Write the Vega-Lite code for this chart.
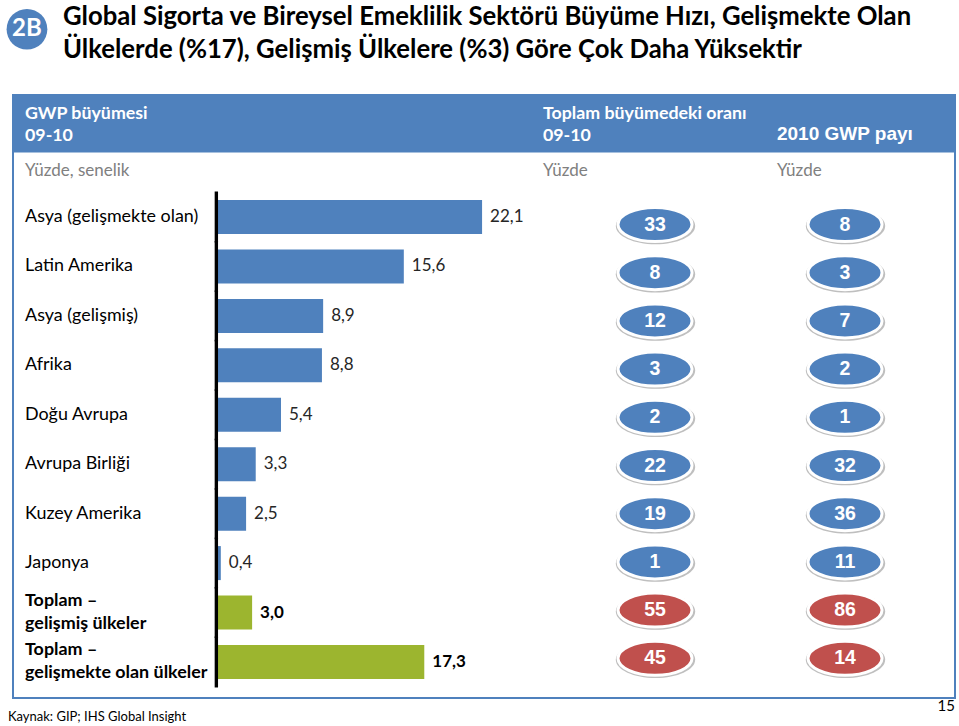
{
  "$schema": "https://vega.github.io/schema/vega-lite/v6.json",
  "width": 942,
  "height": 603,
  "autosize": {"type": "none"},
  "padding": {"left": 13, "top": 95, "right": 4, "bottom": 28},
  "background": "white",
  "config": {
    "font": "Lato",
    "view": {"stroke": "#4F81BD", "strokeWidth": 2},
    "locale": {"number": {"decimal": ",", "thousands": ".", "grouping": [3], "currency": ["", " TL"]}},
    "axisX": {"domainColor": "#4F81BD", "domainWidth": 57, "offset": -574.5, "ticks": false, "labels": false, "grid": false},
    "axisY": {"grid": false}
  },
  "datasets": {
    "bolgeler": [
      {"bolge": "Asya (gelişmekte olan)", "buyume": 22.1, "buyume_payi": 33, "gwp_payi": 8, "tur": "bölge"},
      {"bolge": "Latin Amerika", "buyume": 15.6, "buyume_payi": 8, "gwp_payi": 3, "tur": "bölge"},
      {"bolge": "Asya (gelişmiş)", "buyume": 8.9, "buyume_payi": 12, "gwp_payi": 7, "tur": "bölge"},
      {"bolge": "Afrika", "buyume": 8.8, "buyume_payi": 3, "gwp_payi": 2, "tur": "bölge"},
      {"bolge": "Doğu Avrupa", "buyume": 5.4, "buyume_payi": 2, "gwp_payi": 1, "tur": "bölge"},
      {"bolge": "Avrupa Birliği", "buyume": 3.3, "buyume_payi": 22, "gwp_payi": 32, "tur": "bölge"},
      {"bolge": "Kuzey Amerika", "buyume": 2.5, "buyume_payi": 19, "gwp_payi": 36, "tur": "bölge"},
      {"bolge": "Japonya", "buyume": 0.4, "buyume_payi": 1, "gwp_payi": 11, "tur": "bölge"},
      {"bolge": "Toplam –\ngelişmiş ülkeler", "buyume": 3.0, "buyume_payi": 55, "gwp_payi": 86, "tur": "toplam"},
      {"bolge": "Toplam –\ngelişmekte olan ülkeler", "buyume": 17.3, "buyume_payi": 45, "gwp_payi": 14, "tur": "toplam"}
    ]
  },
  "data": {"name": "bolgeler"},
  "layer": [
    {
      "layer": [
        {
          "mark": {"type": "bar"},
          "encoding": {
            "x": {"field": "buyume", "type": "quantitative", "title": null, "scale": {"type": "linear", "domain": [-16.86, 61.38], "nice": false, "zero": false}},
            "y": {"field": "bolge", "type": "nominal", "axis": null, "sort": null, "scale": {"type": "band", "domain": ["rozet", "ara", "başlık", "birim", "Asya (gelişmekte olan)", "Latin Amerika", "Asya (gelişmiş)", "Afrika", "Doğu Avrupa", "Avrupa Birliği", "Kuzey Amerika", "Japonya", "Toplam –\ngelişmiş ülkeler", "Toplam –\ngelişmekte olan ülkeler", "kaynak"], "range": [-100.47, 641.13], "paddingInner": 0.312, "paddingOuter": 0.156}},
            "color": {"condition": {"test": "datum.tur === 'toplam'", "value": "#9CB52F"}, "value": "#4F81BD"}
          }
        },
        {
          "mark": {"type": "bar", "color": "black", "height": {"band": 1.5}},
          "encoding": {
            "x": {"datum": -0.11, "type": "quantitative", "scale": {"type": "linear", "domain": [-16.86, 61.38], "nice": false, "zero": false}},
            "x2": {"datum": 0.17},
            "y": {"field": "bolge", "type": "nominal", "axis": null, "sort": null, "scale": {"type": "band", "domain": ["rozet", "ara", "başlık", "birim", "Asya (gelişmekte olan)", "Latin Amerika", "Asya (gelişmiş)", "Afrika", "Doğu Avrupa", "Avrupa Birliği", "Kuzey Amerika", "Japonya", "Toplam –\ngelişmiş ülkeler", "Toplam –\ngelişmekte olan ülkeler", "kaynak"], "range": [-100.47, 641.13], "paddingInner": 0.312, "paddingOuter": 0.156}}
          }
        },
        {
          "transform": [{"filter": "datum.tur === 'bölge'"}],
          "mark": {"type": "text", "align": "left", "baseline": "middle", "dx": 8, "fontSize": 17, "color": "#262626"},
          "encoding": {
            "x": {"field": "buyume", "type": "quantitative", "title": null, "scale": {"type": "linear", "domain": [-16.86, 61.38], "nice": false, "zero": false}},
            "y": {"field": "bolge", "type": "nominal", "axis": null, "sort": null, "scale": {"type": "band", "domain": ["rozet", "ara", "başlık", "birim", "Asya (gelişmekte olan)", "Latin Amerika", "Asya (gelişmiş)", "Afrika", "Doğu Avrupa", "Avrupa Birliği", "Kuzey Amerika", "Japonya", "Toplam –\ngelişmiş ülkeler", "Toplam –\ngelişmekte olan ülkeler", "kaynak"], "range": [-100.47, 641.13], "paddingInner": 0.312, "paddingOuter": 0.156}},
            "text": {"field": "buyume", "type": "quantitative", "format": ".1f"}
          }
        },
        {
          "transform": [{"filter": "datum.tur === 'toplam'"}],
          "mark": {"type": "text", "align": "left", "baseline": "middle", "dx": 8, "fontSize": 17, "fontWeight": "bold", "color": "black"},
          "encoding": {
            "x": {"field": "buyume", "type": "quantitative", "title": null, "scale": {"type": "linear", "domain": [-16.86, 61.38], "nice": false, "zero": false}},
            "y": {"field": "bolge", "type": "nominal", "axis": null, "sort": null, "scale": {"type": "band", "domain": ["rozet", "ara", "başlık", "birim", "Asya (gelişmekte olan)", "Latin Amerika", "Asya (gelişmiş)", "Afrika", "Doğu Avrupa", "Avrupa Birliği", "Kuzey Amerika", "Japonya", "Toplam –\ngelişmiş ülkeler", "Toplam –\ngelişmekte olan ülkeler", "kaynak"], "range": [-100.47, 641.13], "paddingInner": 0.312, "paddingOuter": 0.156}},
            "text": {"field": "buyume", "type": "quantitative", "format": ".1f"}
          }
        },
        {
          "transform": [{"filter": "datum.tur === 'bölge'"}],
          "mark": {"type": "text", "align": "left", "baseline": "middle", "fontSize": 17.9, "color": "black"},
          "encoding": {
            "x": {"datum": -15.86, "type": "quantitative", "scale": {"type": "linear", "domain": [-16.86, 61.38], "nice": false, "zero": false}},
            "y": {"field": "bolge", "type": "nominal", "axis": null, "sort": null, "scale": {"type": "band", "domain": ["rozet", "ara", "başlık", "birim", "Asya (gelişmekte olan)", "Latin Amerika", "Asya (gelişmiş)", "Afrika", "Doğu Avrupa", "Avrupa Birliği", "Kuzey Amerika", "Japonya", "Toplam –\ngelişmiş ülkeler", "Toplam –\ngelişmekte olan ülkeler", "kaynak"], "range": [-100.47, 641.13], "paddingInner": 0.312, "paddingOuter": 0.156}},
            "text": {"field": "bolge", "type": "nominal"}
          }
        },
        {
          "transform": [{"filter": "datum.tur === 'toplam'"}],
          "mark": {"type": "text", "align": "left", "baseline": "middle", "dy": -11.5, "fontSize": 17.9, "fontWeight": "bold", "color": "black", "lineBreak": "\n", "lineHeight": 23},
          "encoding": {
            "x": {"datum": -15.86, "type": "quantitative", "scale": {"type": "linear", "domain": [-16.86, 61.38], "nice": false, "zero": false}},
            "y": {"field": "bolge", "type": "nominal", "axis": null, "sort": null, "scale": {"type": "band", "domain": ["rozet", "ara", "başlık", "birim", "Asya (gelişmekte olan)", "Latin Amerika", "Asya (gelişmiş)", "Afrika", "Doğu Avrupa", "Avrupa Birliği", "Kuzey Amerika", "Japonya", "Toplam –\ngelişmiş ülkeler", "Toplam –\ngelişmekte olan ülkeler", "kaynak"], "range": [-100.47, 641.13], "paddingInner": 0.312, "paddingOuter": 0.156}},
            "text": {"field": "bolge", "type": "nominal"}
          }
        },
        {
          "data": {"values": [{"metin": "Global Sigorta ve Bireysel Emeklilik Sektörü Büyüme Hızı, Gelişmekte Olan\nÜlkelerde (%17), Gelişmiş Ülkelere (%3) Göre Çok Daha Yüksektir"}]},
          "mark": {"type": "text", "align": "left", "baseline": "middle", "dy": -2, "fontSize": 25.7, "fontWeight": "bold", "color": "black", "lineBreak": "\n", "lineHeight": 33},
          "encoding": {
            "x": {"datum": -12.71, "type": "quantitative", "scale": {"type": "linear", "domain": [-16.86, 61.38], "nice": false, "zero": false}},
            "y": {"datum": "rozet", "type": "nominal", "axis": null, "scale": {"type": "band", "domain": ["rozet", "ara", "başlık", "birim", "Asya (gelişmekte olan)", "Latin Amerika", "Asya (gelişmiş)", "Afrika", "Doğu Avrupa", "Avrupa Birliği", "Kuzey Amerika", "Japonya", "Toplam –\ngelişmiş ülkeler", "Toplam –\ngelişmekte olan ülkeler", "kaynak"], "range": [-100.47, 641.13], "paddingInner": 0.312, "paddingOuter": 0.156}},
            "text": {"field": "metin", "type": "nominal"}
          }
        },
        {
          "data": {"values": [{"metin": "2B"}]},
          "mark": {"type": "point", "shape": "circle", "filled": true, "size": 1660, "color": "#4F81BD", "opacity": 1, "yOffset": 10},
          "encoding": {
            "x": {"datum": -15.70, "type": "quantitative", "scale": {"type": "linear", "domain": [-16.86, 61.38], "nice": false, "zero": false}},
            "y": {"datum": "rozet", "type": "nominal", "axis": null, "scale": {"type": "band", "domain": ["rozet", "ara", "başlık", "birim", "Asya (gelişmekte olan)", "Latin Amerika", "Asya (gelişmiş)", "Afrika", "Doğu Avrupa", "Avrupa Birliği", "Kuzey Amerika", "Japonya", "Toplam –\ngelişmiş ülkeler", "Toplam –\ngelişmekte olan ülkeler", "kaynak"], "range": [-100.47, 641.13], "paddingInner": 0.312, "paddingOuter": 0.156}}
          }
        },
        {
          "data": {"values": [{"metin": "2B"}]},
          "mark": {"type": "text", "align": "center", "baseline": "middle", "dy": 10, "fontSize": 24, "fontWeight": "bold", "color": "white"},
          "encoding": {
            "x": {"datum": -15.70, "type": "quantitative", "scale": {"type": "linear", "domain": [-16.86, 61.38], "nice": false, "zero": false}},
            "y": {"datum": "rozet", "type": "nominal", "axis": null, "scale": {"type": "band", "domain": ["rozet", "ara", "başlık", "birim", "Asya (gelişmekte olan)", "Latin Amerika", "Asya (gelişmiş)", "Afrika", "Doğu Avrupa", "Avrupa Birliği", "Kuzey Amerika", "Japonya", "Toplam –\ngelişmiş ülkeler", "Toplam –\ngelişmekte olan ülkeler", "kaynak"], "range": [-100.47, 641.13], "paddingInner": 0.312, "paddingOuter": 0.156}},
            "text": {"field": "metin", "type": "nominal"}
          }
        },
        {
          "data": {"values": [{"metin": "GWP büyümesi\n09-10"}]},
          "mark": {"type": "text", "align": "left", "baseline": "middle", "dy": -4, "fontSize": 17.8, "fontWeight": "bold", "color": "white", "lineBreak": "\n", "lineHeight": 22},
          "encoding": {
            "x": {"datum": -15.86, "type": "quantitative", "scale": {"type": "linear", "domain": [-16.86, 61.38], "nice": false, "zero": false}},
            "y": {"datum": "başlık", "type": "nominal", "axis": null, "scale": {"type": "band", "domain": ["rozet", "ara", "başlık", "birim", "Asya (gelişmekte olan)", "Latin Amerika", "Asya (gelişmiş)", "Afrika", "Doğu Avrupa", "Avrupa Birliği", "Kuzey Amerika", "Japonya", "Toplam –\ngelişmiş ülkeler", "Toplam –\ngelişmekte olan ülkeler", "kaynak"], "range": [-100.47, 641.13], "paddingInner": 0.312, "paddingOuter": 0.156}},
            "text": {"field": "metin", "type": "nominal"}
          }
        },
        {
          "data": {"values": [{"metin": "Toplam büyümedeki oranı\n09-10"}]},
          "mark": {"type": "text", "align": "left", "baseline": "middle", "dy": -4, "fontSize": 17.8, "fontWeight": "bold", "color": "white", "lineBreak": "\n", "lineHeight": 22},
          "encoding": {
            "x": {"datum": 27.16, "type": "quantitative", "scale": {"type": "linear", "domain": [-16.86, 61.38], "nice": false, "zero": false}},
            "y": {"datum": "başlık", "type": "nominal", "axis": null, "scale": {"type": "band", "domain": ["rozet", "ara", "başlık", "birim", "Asya (gelişmekte olan)", "Latin Amerika", "Asya (gelişmiş)", "Afrika", "Doğu Avrupa", "Avrupa Birliği", "Kuzey Amerika", "Japonya", "Toplam –\ngelişmiş ülkeler", "Toplam –\ngelişmekte olan ülkeler", "kaynak"], "range": [-100.47, 641.13], "paddingInner": 0.312, "paddingOuter": 0.156}},
            "text": {"field": "metin", "type": "nominal"}
          }
        },
        {
          "data": {"values": [{"metin": "2010 GWP payı"}]},
          "mark": {"type": "text", "align": "left", "baseline": "middle", "dy": 16, "font": "Liberation Sans", "fontSize": 19, "fontWeight": "bold", "color": "white"},
          "encoding": {
            "x": {"datum": 46.59, "type": "quantitative", "scale": {"type": "linear", "domain": [-16.86, 61.38], "nice": false, "zero": false}},
            "y": {"datum": "başlık", "type": "nominal", "axis": null, "scale": {"type": "band", "domain": ["rozet", "ara", "başlık", "birim", "Asya (gelişmekte olan)", "Latin Amerika", "Asya (gelişmiş)", "Afrika", "Doğu Avrupa", "Avrupa Birliği", "Kuzey Amerika", "Japonya", "Toplam –\ngelişmiş ülkeler", "Toplam –\ngelişmekte olan ülkeler", "kaynak"], "range": [-100.47, 641.13], "paddingInner": 0.312, "paddingOuter": 0.156}},
            "text": {"field": "metin", "type": "nominal"}
          }
        },
        {
          "data": {"values": [{"metin": "Yüzde, senelik"}]},
          "mark": {"type": "text", "align": "left", "baseline": "middle", "dy": 3.5, "fontSize": 17, "color": "#808080"},
          "encoding": {
            "x": {"datum": -15.86, "type": "quantitative", "scale": {"type": "linear", "domain": [-16.86, 61.38], "nice": false, "zero": false}},
            "y": {"datum": "birim", "type": "nominal", "axis": null, "scale": {"type": "band", "domain": ["rozet", "ara", "başlık", "birim", "Asya (gelişmekte olan)", "Latin Amerika", "Asya (gelişmiş)", "Afrika", "Doğu Avrupa", "Avrupa Birliği", "Kuzey Amerika", "Japonya", "Toplam –\ngelişmiş ülkeler", "Toplam –\ngelişmekte olan ülkeler", "kaynak"], "range": [-100.47, 641.13], "paddingInner": 0.312, "paddingOuter": 0.156}},
            "text": {"field": "metin", "type": "nominal"}
          }
        },
        {
          "data": {"values": [{"metin": "Yüzde"}]},
          "mark": {"type": "text", "align": "left", "baseline": "middle", "dy": 3.5, "fontSize": 17, "color": "#808080"},
          "encoding": {
            "x": {"datum": 27.16, "type": "quantitative", "scale": {"type": "linear", "domain": [-16.86, 61.38], "nice": false, "zero": false}},
            "y": {"datum": "birim", "type": "nominal", "axis": null, "scale": {"type": "band", "domain": ["rozet", "ara", "başlık", "birim", "Asya (gelişmekte olan)", "Latin Amerika", "Asya (gelişmiş)", "Afrika", "Doğu Avrupa", "Avrupa Birliği", "Kuzey Amerika", "Japonya", "Toplam –\ngelişmiş ülkeler", "Toplam –\ngelişmekte olan ülkeler", "kaynak"], "range": [-100.47, 641.13], "paddingInner": 0.312, "paddingOuter": 0.156}},
            "text": {"field": "metin", "type": "nominal"}
          }
        },
        {
          "data": {"values": [{"metin": "Yüzde"}]},
          "mark": {"type": "text", "align": "left", "baseline": "middle", "dy": 3.5, "fontSize": 17, "color": "#808080"},
          "encoding": {
            "x": {"datum": 46.59, "type": "quantitative", "scale": {"type": "linear", "domain": [-16.86, 61.38], "nice": false, "zero": false}},
            "y": {"datum": "birim", "type": "nominal", "axis": null, "scale": {"type": "band", "domain": ["rozet", "ara", "başlık", "birim", "Asya (gelişmekte olan)", "Latin Amerika", "Asya (gelişmiş)", "Afrika", "Doğu Avrupa", "Avrupa Birliği", "Kuzey Amerika", "Japonya", "Toplam –\ngelişmiş ülkeler", "Toplam –\ngelişmekte olan ülkeler", "kaynak"], "range": [-100.47, 641.13], "paddingInner": 0.312, "paddingOuter": 0.156}},
            "text": {"field": "metin", "type": "nominal"}
          }
        },
        {
          "data": {"values": [{"metin": "Kaynak:  GIP; IHS Global Insight"}]},
          "mark": {"type": "text", "align": "left", "baseline": "middle", "dy": 6, "fontSize": 13, "color": "black"},
          "encoding": {
            "x": {"datum": -17.28, "type": "quantitative", "scale": {"type": "linear", "domain": [-16.86, 61.38], "nice": false, "zero": false}},
            "y": {"datum": "kaynak", "type": "nominal", "axis": null, "scale": {"type": "band", "domain": ["rozet", "ara", "başlık", "birim", "Asya (gelişmekte olan)", "Latin Amerika", "Asya (gelişmiş)", "Afrika", "Doğu Avrupa", "Avrupa Birliği", "Kuzey Amerika", "Japonya", "Toplam –\ngelişmiş ülkeler", "Toplam –\ngelişmekte olan ülkeler", "kaynak"], "range": [-100.47, 641.13], "paddingInner": 0.312, "paddingOuter": 0.156}},
            "text": {"field": "metin", "type": "nominal"}
          }
        },
        {
          "data": {"values": [{"metin": "15"}]},
          "mark": {"type": "text", "align": "right", "baseline": "middle", "dy": -5, "fontSize": 15, "color": "black"},
          "encoding": {
            "x": {"datum": 61.38, "type": "quantitative", "scale": {"type": "linear", "domain": [-16.86, 61.38], "nice": false, "zero": false}},
            "y": {"datum": "kaynak", "type": "nominal", "axis": null, "scale": {"type": "band", "domain": ["rozet", "ara", "başlık", "birim", "Asya (gelişmekte olan)", "Latin Amerika", "Asya (gelişmiş)", "Afrika", "Doğu Avrupa", "Avrupa Birliği", "Kuzey Amerika", "Japonya", "Toplam –\ngelişmiş ülkeler", "Toplam –\ngelişmekte olan ülkeler", "kaynak"], "range": [-100.47, 641.13], "paddingInner": 0.312, "paddingOuter": 0.156}},
            "text": {"field": "metin", "type": "nominal"}
          }
        }
      ]
    },
    {
      "transform": [{"fold": ["buyume_payi", "gwp_payi"], "as": ["olcu", "pay"]}],
      "layer": [
        {
          "mark": {"type": "point", "shape": "M -1 0 C -1 -0.254 -0.552 -0.46 0 -0.46 C 0.552 -0.46 1 -0.254 1 0 C 1 0.254 0.552 0.46 0 0.46 C -0.552 0.46 -1 0.254 -1 0 Z", "filled": true, "size": 6300, "color": "#BFBFBF", "opacity": 1, "xOffset": 0.5, "yOffset": 1.5},
          "encoding": {
            "x": {"field": "olcu", "type": "nominal", "axis": null, "scale": {"type": "point", "domain": ["buyume_payi", "gwp_payi"], "range": [642, 832], "padding": 0}},
            "y": {"field": "bolge", "type": "nominal", "axis": null, "sort": null, "scale": {"type": "point", "domain": ["Asya (gelişmekte olan)", "Latin Amerika", "Asya (gelişmiş)", "Afrika", "Doğu Avrupa", "Avrupa Birliği", "Kuzey Amerika", "Japonya", "Toplam –\ngelişmiş ülkeler", "Toplam –\ngelişmekte olan ülkeler"], "range": [129.5, 563.3], "padding": 0}}
          }
        },
        {
          "mark": {"type": "point", "shape": "M -1 0 C -1 -0.254 -0.552 -0.46 0 -0.46 C 0.552 -0.46 1 -0.254 1 0 C 1 0.254 0.552 0.46 0 0.46 C -0.552 0.46 -1 0.254 -1 0 Z", "filled": true, "size": 5476, "opacity": 1, "stroke": "white", "strokeWidth": 3, "strokeOpacity": 1},
          "encoding": {
            "x": {"field": "olcu", "type": "nominal", "axis": null, "scale": {"type": "point", "domain": ["buyume_payi", "gwp_payi"], "range": [642, 832], "padding": 0}},
            "y": {"field": "bolge", "type": "nominal", "axis": null, "sort": null, "scale": {"type": "point", "domain": ["Asya (gelişmekte olan)", "Latin Amerika", "Asya (gelişmiş)", "Afrika", "Doğu Avrupa", "Avrupa Birliği", "Kuzey Amerika", "Japonya", "Toplam –\ngelişmiş ülkeler", "Toplam –\ngelişmekte olan ülkeler"], "range": [129.5, 563.3], "padding": 0}},
            "fill": {"condition": {"test": "datum.tur === 'toplam'", "value": "#C0504D"}, "value": "#4F81BD"}
          }
        },
        {
          "mark": {"type": "text", "align": "center", "baseline": "middle", "font": "Liberation Sans", "fontSize": 19.5, "fontWeight": "bold", "color": "white"},
          "encoding": {
            "x": {"field": "olcu", "type": "nominal", "axis": null, "scale": {"type": "point", "domain": ["buyume_payi", "gwp_payi"], "range": [642, 832], "padding": 0}},
            "y": {"field": "bolge", "type": "nominal", "axis": null, "sort": null, "scale": {"type": "point", "domain": ["Asya (gelişmekte olan)", "Latin Amerika", "Asya (gelişmiş)", "Afrika", "Doğu Avrupa", "Avrupa Birliği", "Kuzey Amerika", "Japonya", "Toplam –\ngelişmiş ülkeler", "Toplam –\ngelişmekte olan ülkeler"], "range": [129.5, 563.3], "padding": 0}},
            "text": {"field": "pay", "type": "quantitative", "format": "d"}
          }
        }
      ]
    }
  ],
  "resolve": {"scale": {"x": "independent", "y": "independent"}}
}
